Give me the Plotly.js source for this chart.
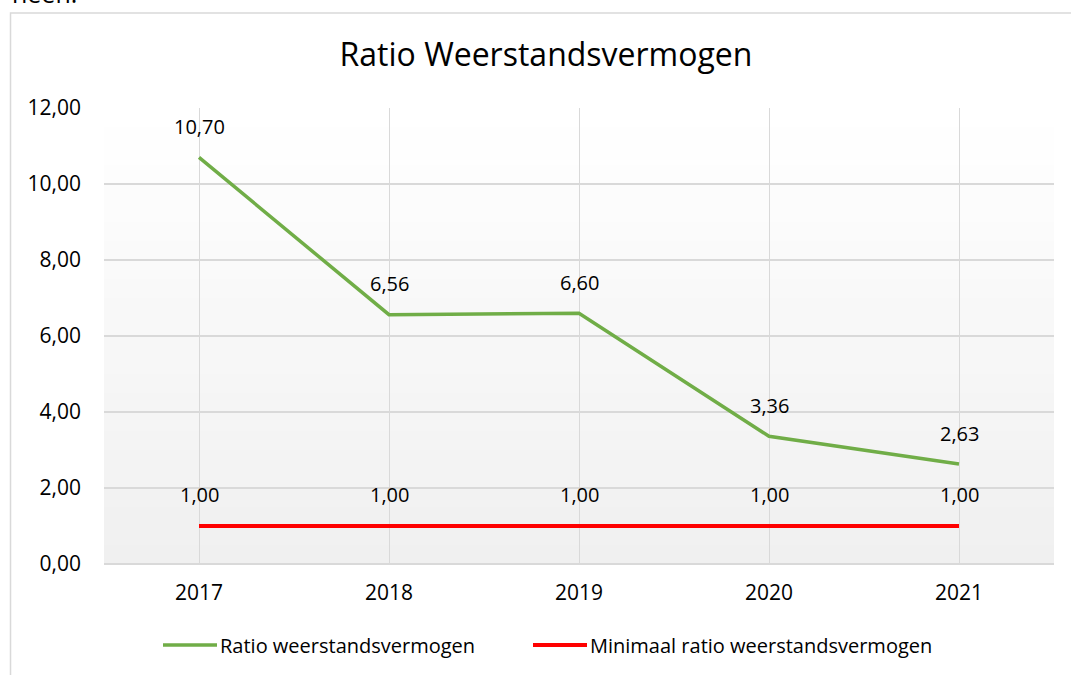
<!DOCTYPE html>
<html>
<head>
<meta charset="utf-8">
<script src="https://cdn.plot.ly/plotly-3.0.1.min.js"></script>
<style>
  html, body { margin: 0; padding: 0; background: #ffffff; }
  #chart { width: 1071px; height: 675px; }
</style>
</head>
<body>
<div id="chart"></div>
<script>
// ---- data ----
var years = ['2017', '2018', '2019', '2020', '2021'];
var ratioValues = [10.70, 6.56, 6.60, 3.36, 2.63];
var minimumValues = [1.00, 1.00, 1.00, 1.00, 1.00];
var seriesNames = ['Ratio weerstandsvermogen', 'Minimaal ratio weerstandsvermogen'];
var yTicks = [0, 2, 4, 6, 8, 10, 12];
var chartTitle = 'Ratio Weerstandsvermogen';

var FONT = 'Open Sans, Calibri, Liberation Sans, sans-serif';
var GREEN = '#70ad47';
var RED = '#ff0000';

function fmt(v) { return v.toFixed(2).replace('.', ','); }

var traces = [
  {
    x: years, y: ratioValues, name: seriesNames[0], type: 'scatter', mode: 'lines',
    line: { color: GREEN, width: 3.5 }, hoverinfo: 'skip', legend: 'legend'
  },
  {
    x: years, y: minimumValues, name: seriesNames[1], type: 'scatter', mode: 'lines',
    line: { color: RED, width: 4 }, hoverinfo: 'skip', legend: 'legend2'
  }
];

var annotations = [];
years.forEach(function (yr, i) {
  // category axis: position annotations by category index
  annotations.push({ x: i, y: ratioValues[i], xref: 'x', yref: 'y', text: fmt(ratioValues[i]),
    showarrow: false, yshift: 31, font: { family: FONT, size: 20, color: '#000000' } });
  annotations.push({ x: i, y: minimumValues[i], xref: 'x', yref: 'y', text: fmt(minimumValues[i]),
    showarrow: false, yshift: 32, font: { family: FONT, size: 20, color: '#000000' } });
});
// partially visible text above the chart
annotations.push({ x: -0.0985, y: 1.21, xref: 'paper', yref: 'paper', xanchor: 'left', yanchor: 'bottom',
  text: 'heen.', showarrow: false, font: { family: FONT, size: 25, color: '#000000' } });

// gradient background bands in the plot area
var shapes = [];
var nBands = 24;
for (var b = 0; b < nBands; b++) {
  var t = b / (nBands - 1);
  var c = Math.round(255 - t * 15);
  shapes.push({ type: 'rect', xref: 'paper', yref: 'paper', layer: 'below',
    x0: 0, x1: 1, y0: 1 - (b + 1) / nBands, y1: 1 - b / nBands,
    fillcolor: 'rgb(' + c + ',' + c + ',' + c + ')', line: { width: 0 } });
}
// chart border
shapes.push({ type: 'rect', xref: 'paper', yref: 'paper', layer: 'above',
  x0: -0.0984, x1: 1.06, y0: -0.26, y1: 1.2085,
  fillcolor: 'rgba(0,0,0,0)', line: { color: '#d9d9d9', width: 1.5 } });

var legendFont = { family: FONT, size: 20, color: '#000000' };

var layout = {
  width: 1071, height: 675,
  margin: { l: 104, r: 17, t: 108, b: 110, pad: 0 },
  paper_bgcolor: '#ffffff',
  plot_bgcolor: 'rgba(0,0,0,0)',
  separators: ',.',
  font: { family: FONT, size: 20, color: '#000000' },
  title: { text: chartTitle, x: 546 / 1071, xanchor: 'center', y: 1 - 55 / 675, yanchor: 'middle',
    font: { family: FONT, size: 32, color: '#000000' } },
  xaxis: {
    type: 'category', range: [-0.5, 4.5],
    showgrid: true, gridcolor: '#d9d9d9', gridwidth: 1,
    showline: false, zeroline: false, ticks: '',
    ticklabelstandoff: 14,
    tickfont: { family: FONT, size: 21, color: '#000000' }
  },
  yaxis: {
    range: [0, 12], tickvals: yTicks, tickformat: '.2f',
    showgrid: true, gridcolor: '#d9d9d9', gridwidth: 1.5,
    zeroline: true, zerolinecolor: '#d9d9d9', zerolinewidth: 2,
    showline: false, ticks: '',
    ticklabelstandoff: 22,
    tickfont: { family: FONT, size: 21, color: '#000000' }
  },
  showlegend: true,
  legend: { orientation: 'h', x: (158 - 104) / 950, xanchor: 'left', y: -0.175, yanchor: 'middle',
    font: legendFont, itemwidth: 52, bgcolor: 'rgba(0,0,0,0)', borderwidth: 0 },
  legend2: { orientation: 'h', x: (528 - 104) / 950, xanchor: 'left', y: -0.175, yanchor: 'middle',
    font: legendFont, itemwidth: 52, bgcolor: 'rgba(0,0,0,0)', borderwidth: 0 },
  annotations: annotations,
  shapes: shapes
};

Plotly.newPlot('chart', traces, layout, { displayModeBar: false, staticPlot: true }).then(function (gd) {
  // lengthen legend line samples to match the reference
  var paths = gd.querySelectorAll('.legendlines path');
  paths.forEach(function (p) { p.setAttribute('d', 'M5,0h54'); });
});
</script>
</body>
</html>
